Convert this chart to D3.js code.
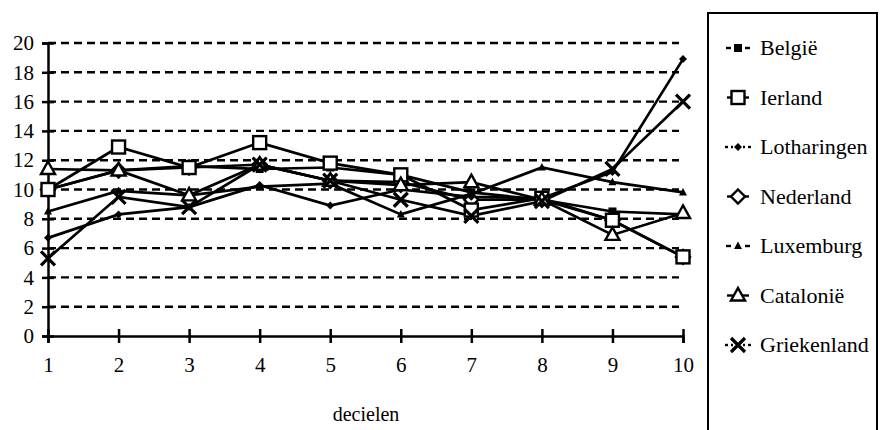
<!DOCTYPE html>
<html><head><meta charset="utf-8">
<script src="https://cdn.jsdelivr.net/npm/d3@7"></script>
<style>html,body{margin:0;padding:0;background:#fff}svg{display:block}
text{font-family:"Liberation Serif","Times New Roman","DejaVu Serif",serif;}</style>
</head><body>
<svg id="c" width="880" height="430"></svg>
<script>
const deciles = [1,2,3,4,5,6,7,8,9,10];
const yTicks = [0,2,4,6,8,10,12,14,16,18,20];
const xLabel = "decielen";
const belgie      = [10.0, 11.3, 11.6, 11.4, 11.5, 11.0, 9.8, 9.3, 8.5, 8.3];
const ierland     = [10.0, 12.9, 11.5, 13.2, 11.8, 11.0, 8.6, 9.4, 7.9, 5.4];
const lotharingen = [6.7, 8.3, 8.8, 10.3, 8.9, 10.0, 9.5, 9.4, 11.2, 18.9];
const nederland   = [10.0, 11.3, 11.5, 11.7, 10.6, 10.5, 9.3, 9.3, 7.9, 5.4];
const luxemburg   = [8.5, 9.9, 9.6, 10.2, 10.4, 8.3, 9.7, 11.5, 10.5, 9.8];
const catalonie   = [11.4, 11.3, 9.6, 11.7, 10.6, 10.3, 10.5, 9.3, 6.9, 8.4];
const griekenland = [5.3, 9.5, 8.8, 11.7, 10.6, 9.3, 8.2, 9.2, 11.4, 16.0];
const seriesNames = ["België","Ierland","Lotharingen","Nederland","Luxemburg","Catalonië","Griekenland"];
const seriesVals = [belgie, ierland, lotharingen, nederland, luxemburg, catalonie, griekenland];
const markerKinds = ["fsquare","osquare","fdiamond","odiamond","ftriangle","otriangle","cross"];
const legendLine = ["dash","solid","dot","solid","dash","solid","dot"];
const markerOrder = [3,0,1,2,4,5,6];

const svg = d3.select("#c");
const x = d3.scaleLinear().domain([1,10]).range([48,683]);
const y = d3.scaleLinear().domain([0,20]).range([336,43]);

// gridlines
svg.append("g").selectAll("line").data(yTicks.filter(d=>d>0)).join("line")
  .attr("x1", x(1)).attr("x2", x(10)-4).attr("y1", d=>y(d)).attr("y2", d=>y(d))
  .attr("stroke","#000").attr("stroke-width",2.4).attr("stroke-dasharray","8,5");

// y axis
const ya = svg.append("g").attr("transform",`translate(${x(1)},0)`)
  .call(d3.axisLeft(y).tickValues(yTicks).tickSize(6).tickPadding(8));
ya.attr("font-family",null).attr("font-size",null);
ya.select(".domain").attr("stroke","#000").attr("stroke-width",2.5);
ya.selectAll(".tick line").attr("x1",6).attr("x2",-6).attr("stroke","#000").attr("stroke-width",2.5);
ya.selectAll(".tick text").style("font-size","21px").attr("fill","#000").attr("x",-14);

// x axis
const xa = svg.append("g").attr("transform",`translate(0,${y(0)})`)
  .call(d3.axisBottom(x).tickValues(deciles).tickFormat(d3.format("d")).tickSize(7).tickPadding(14));
xa.attr("font-family",null).attr("font-size",null);
xa.select(".domain").attr("stroke","#000").attr("stroke-width",2.5);
xa.selectAll(".tick line").attr("y1",-7).attr("y2",7).attr("stroke","#000").attr("stroke-width",2.5);
xa.selectAll(".tick text").style("font-size","21px").attr("fill","#000");

svg.append("text").attr("x",366).attr("y",421).attr("text-anchor","middle")
  .style("font-size","20px").text(xLabel);

// lines
const line = d3.line().x((d,i)=>x(deciles[i])).y(d=>y(d));
svg.append("g").selectAll("path").data(seriesVals).join("path")
  .attr("d", d=>line(d)).attr("fill","none").attr("stroke","#000").attr("stroke-width",2.7);

function drawMarker(g, kind, cx, cy){
  switch(kind){
    case "fsquare": g.append("rect").attr("x",cx-4).attr("y",cy-4).attr("width",8).attr("height",8).attr("fill","#000"); break;
    case "osquare": g.append("rect").attr("x",cx-6.5).attr("y",cy-6.5).attr("width",13).attr("height",13).attr("fill","#fff").attr("stroke","#000").attr("stroke-width",2.4); break;
    case "fdiamond": g.append("path").attr("d",`M${cx},${cy-4}L${cx+4},${cy}L${cx},${cy+4}L${cx-4},${cy}Z`).attr("fill","#000"); break;
    case "odiamond": g.append("path").attr("d",`M${cx},${cy-7}L${cx+7},${cy}L${cx},${cy+7}L${cx-7},${cy}Z`).attr("fill","#fff").attr("stroke","#000").attr("stroke-width",2.4); break;
    case "ftriangle": g.append("path").attr("d",`M${cx},${cy-4.5}L${cx+4},${cy+3}L${cx-4},${cy+3}Z`).attr("fill","#000"); break;
    case "otriangle": g.append("path").attr("d",`M${cx},${cy-7.5}L${cx+7},${cy+5}L${cx-7},${cy+5}Z`).attr("fill","#fff").attr("stroke","#000").attr("stroke-width",2.4); break;
    case "cross": g.append("path").attr("d",`M${cx-7},${cy-7}L${cx+7},${cy+7}M${cx+7},${cy-7}L${cx-7},${cy+7}`).attr("stroke","#000").attr("stroke-width",3.2); break;
  }
}
const mg = svg.append("g");
markerOrder.forEach(si=>{
  seriesVals[si].forEach((v,i)=>drawMarker(mg, markerKinds[si], x(deciles[i]), y(v)));
});

// legend
svg.append("rect").attr("x",708).attr("y",13).attr("width",169).attr("height",430)
  .attr("fill","none").attr("stroke","#000").attr("stroke-width",2);
const lg = svg.append("g");
seriesNames.forEach((name,i)=>{
  const cy = 48 + i*49.5;
  const cx = 738;
  const st = legendLine[i];
  const seg = (x1,x2)=>lg.append("line").attr("x1",x1).attr("x2",x2).attr("y1",cy).attr("y2",cy)
      .attr("stroke","#000").attr("stroke-width",2.4);
  if(st==="solid"){ seg(cx-11,cx+11); }
  else if(st==="dash"){ seg(cx-12,cx-7); seg(cx+7,cx+12); }
  else { seg(cx-13,cx-10); seg(cx+10,cx+13); seg(cx-7,cx-5); seg(cx+5,cx+7); }
  drawMarker(lg, markerKinds[i], cx, cy);
  lg.append("text").attr("x",760).attr("y",cy+7).style("font-size","22px").text(name);
});
</script>
</body></html>
